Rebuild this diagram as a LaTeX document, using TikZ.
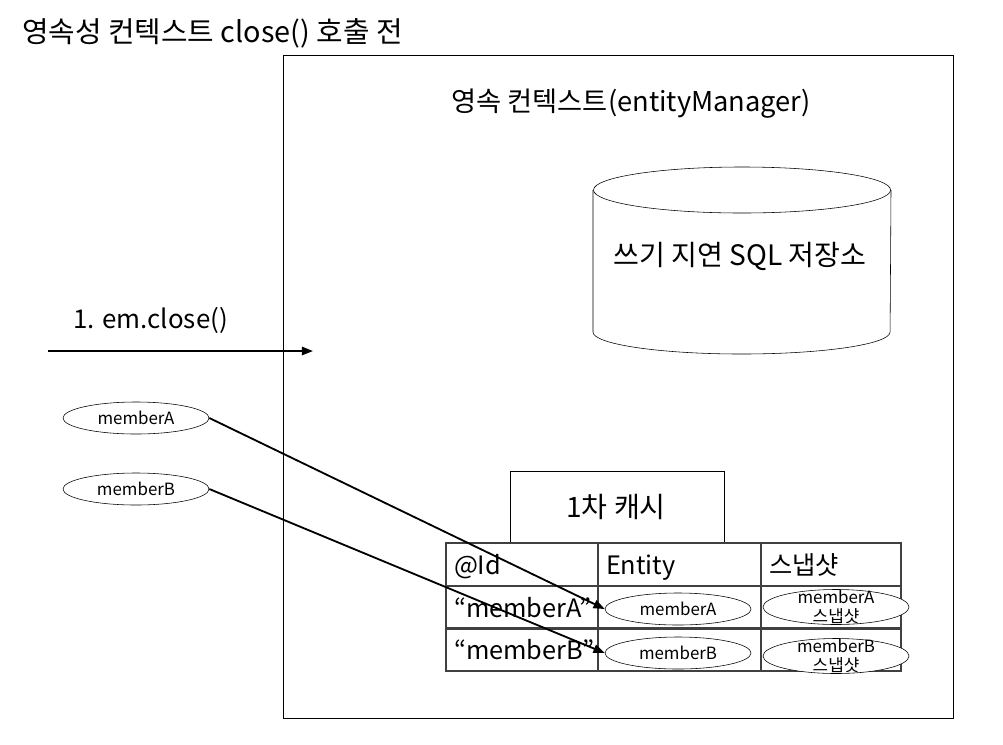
\documentclass[tikz,border=0pt]{standalone}
\usepackage{fontspec}
\setmainfont{Noto Sans CJK KR}
\usetikzlibrary{arrows.meta,shapes.geometric}

\begin{document}
\begin{tikzpicture}[x=0.025cm, y=-0.025cm, every node/.style={font=\fontsize{18}{21}\selectfont},
    txt/.style={inner sep=0pt},
    big/.style={font=\fontsize{20}{24}\selectfont},
    obj/.style={draw, ellipse, minimum width=3.65cm, minimum height=0.8cm, inner sep=0pt, font=\fontsize{12}{14}\selectfont},
    cell/.style={draw=black!75, line width=1.4pt, rectangle, anchor=north west, outer sep=0pt, inner xsep=0.2cm, inner ysep=0pt, minimum height=1.07cm, align=left, text height=0.6cm, text depth=0.1cm},
    link/.style={-{Triangle[length=8pt, width=6pt]}, line width=1.3pt}]
    \useasboundingbox (0,0) rectangle (1003,744);

    % Title
    \node[txt, big, font=\fontsize{20.5}{24}\selectfont, anchor=west] (title) at (22,33) {영속성 컨텍스트 close() 호출 전};

    % Persistence context
    \node[draw, rectangle, minimum width=16.75cm, minimum height=16.575cm, anchor=north west, outer sep=0pt] (pc) at (283,55) {};
    \node[txt, font=\fontsize{19.4}{23}\selectfont] (pcname) at (631,104) {영속 컨텍스트(entityManager)};

    % Write-behind SQL store
    \draw (742,190) ellipse [x radius=3.7125cm, y radius=0.575cm];
    \draw (593,190) -- (593,332) arc [start angle=180, end angle=360, x radius=3.7125cm, y radius=0.55cm] -- (891,190);
    \node[txt, big] (sqlstore) at (740,256) {쓰기 지연 SQL 저장소};

    % em.close()
    \coordinate (closefrom) at (48,351);
    \coordinate (closeto) at (313,351);
    \node[txt, font=\fontsize{18.4}{22}\selectfont, anchor=west] (closelabel) at (73,320) {1. em.close()};
    \draw[link] (closefrom) -- (closeto);

    % Entities outside
    \node[obj] (objA) at (136,418) {memberA};
    \node[obj] (objB) at (136,489) {memberB};

    % First-level cache
    \node[draw, rectangle, minimum width=5.35cm, minimum height=1.8cm, anchor=north west, outer sep=0pt] (cache) at (510,471) {};
    \node[txt, big] (cachename) at (616,507) {1차 캐시};

    % Cache table
    \node[cell, text width=3.4cm] (hid) at (446,543) {@Id};
    \node[cell, text width=3.675cm] (hent) at (598,543) {Entity};
    \node[cell, text width=3.1cm] (hsnap) at (761,543) {스냅샷};
    \node[cell, text width=3.4cm] (idA) at (446,586) {“memberA”};
    \node[cell, text width=3.675cm] (entcellA) at (598,586) {};
    \node[cell, text width=3.1cm] (snapcellA) at (761,586) {};
    \node[cell, text width=3.4cm] (idB) at (446,628) {“memberB”};
    \node[cell, text width=3.675cm] (entcellB) at (598,628) {};
    \node[cell, text width=3.1cm] (snapcellB) at (761,628) {};

    % Entities and snapshots in the cache
    \node[obj, fill=white] (entA) at (678,609) {memberA};
    \node[obj, fill=white] (entB) at (678,653) {memberB};
    \node[obj, fill=white, minimum height=0.875cm] (snapA) at (836,607) {};
    \node[obj, fill=white, minimum height=0.875cm] (snapB) at (836,656) {};
    \node[txt, align=center, font=\fontsize{12}{13.5}\selectfont] (snapAtext) at (snapA) {memberA\\스냅샷};
    \node[txt, align=center, font=\fontsize{12}{13.5}\selectfont] (snapBtext) at (snapB) {memberB\\스냅샷};

    % Arrows
    \draw[link] (objA.east) -- (entA.west);
    \draw[link] (objB.east) -- (entB.west);
\end{tikzpicture}
\end{document}
